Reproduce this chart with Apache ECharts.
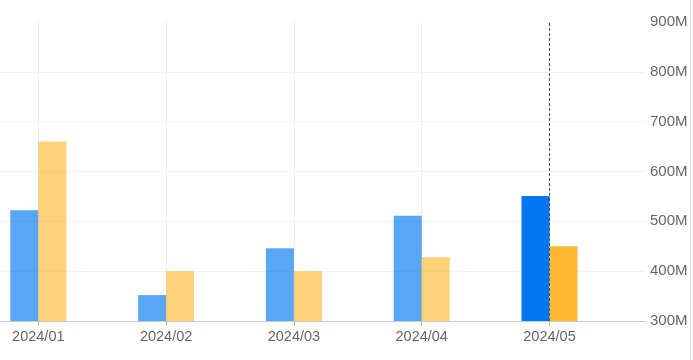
<!DOCTYPE html>
<html>
<head>
<meta charset="utf-8">
<script src="https://cdn.jsdelivr.net/npm/echarts@6/dist/echarts.min.js"></script>
<style>
html,body{margin:0;padding:0;background:#fff;}
#chart{width:693px;height:360px;}
</style>
</head>
<body>
<div id="chart"></div>
<script>
// ---- data ----
const categories = ['2024/01', '2024/02', '2024/03', '2024/04', '2024/05'];
const seriesA = [522, 352, 446, 511, 551];   // blue, in M
const seriesB = [660, 400, 400, 428, 450];   // orange, in M
const yTicks = [300, 400, 500, 600, 700, 800, 900];
const highlightIndex = 4;

// ---- styling ----
const colorA = '#0077ee';
const colorB = '#ffb833';
const dimOpacity = 0.65;

function buildData(values, color) {
  return values.map(function (v, i) {
    return {
      value: [i, v],
      itemStyle: { color: color, opacity: i === highlightIndex ? 1 : dimOpacity }
    };
  });
}

const tickIdx = categories.map(function (_, i) { return i; });

const chart = echarts.init(document.getElementById('chart'), null, { renderer: 'canvas' });
chart.setOption({
  animation: false,
  grid: { left: 0, right: 47, top: 22, bottom: 39, containLabel: false },
  xAxis: {
    type: 'value',
    min: -0.2997,
    max: 4.755,
    axisLine: { show: true, onZero: false, lineStyle: { color: '#cccccc', width: 1 } },
    axisTick: { show: true, customValues: tickIdx, length: 5, lineStyle: { color: '#bbbbbb' } },
    axisLabel: {
      customValues: tickIdx,
      color: '#666666',
      fontSize: 14.5,
      fontFamily: 'Liberation Sans, Arial, sans-serif',
      margin: 8,
      formatter: function (v) { return categories[Math.round(v)] || ''; }
    },
    splitLine: { show: true, lineStyle: { color: '#eeeeee', width: 1 } }
  },
  yAxis: {
    type: 'value',
    position: 'right',
    min: yTicks[0],
    max: yTicks[yTicks.length - 1],
    interval: 100,
    axisLine: { show: false },
    axisTick: { show: false },
    axisLabel: {
      color: '#666666',
      fontSize: 15,
      fontFamily: 'Liberation Sans, Arial, sans-serif',
      margin: 4,
      formatter: function (v) { return v + 'M'; }
    },
    splitLine: { show: true, showMaxLine: false, lineStyle: { color: '#f0f0f0', width: 1 } }
  },
  series: [
    {
      type: 'bar',
      name: 'A',
      barWidth: 28,
      barGap: '0%',
      data: buildData(seriesA, colorA),
      z: 2
    },
    {
      type: 'bar',
      name: 'B',
      barWidth: 28,
      barGap: '0%',
      data: buildData(seriesB, colorB),
      z: 2
    },
    {
      type: 'line',
      name: 'pointer',
      data: [],
      silent: true,
      z: 5,
      markLine: {
        silent: true,
        symbol: ['none', 'none'],
        label: { show: false },
        lineStyle: { color: '#4a4f57', type: [3, 2], width: 1 },
        data: [{ xAxis: highlightIndex }]
      }
    }
  ],
  graphic: [
    { type: 'rect', shape: { x: 690, y: 0, width: 1, height: 360 }, style: { fill: '#e4e4e4' }, silent: true }
  ]
});
</script>
</body>
</html>
